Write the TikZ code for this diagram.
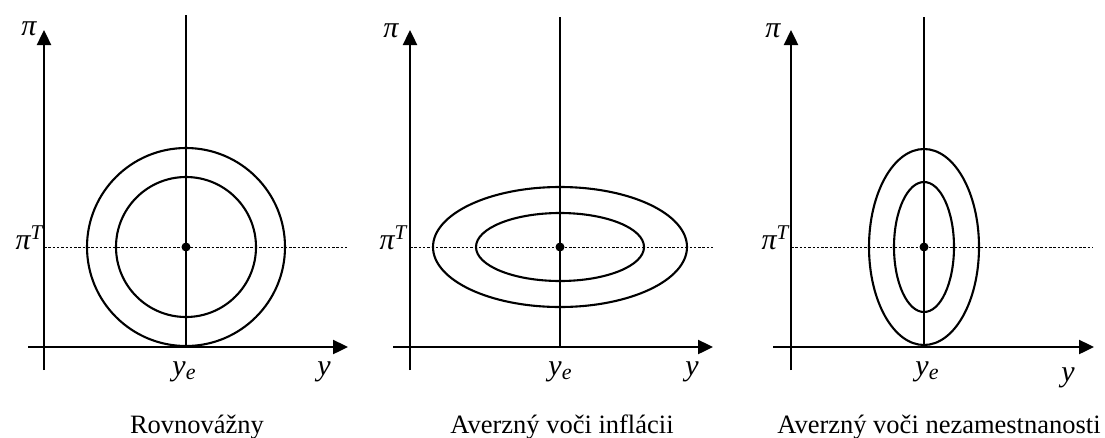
\documentclass[tikz,border=0pt]{standalone}
\usepackage{fontspec}
\setmainfont{Liberation Serif}
\usetikzlibrary{arrows.meta}

\begin{document}
\begin{tikzpicture}[x=1pt, y=-1pt,
  axis/.style={line width=2.4pt, -{Triangle[length=15pt, width=14pt]}},
  guide/.style={line width=1.3pt},
  level/.style={line width=2.1pt},
  target/.style={line width=1pt, dash pattern=on 2.5pt off 1.8pt},
  mlabel/.style={font=\fontsize{30}{30}\selectfont\itshape, inner sep=0pt},
  caption/.style={font=\fontsize{26.5}{30}\selectfont, inner sep=0pt, anchor=base}]
\useasboundingbox (0,0) rectangle (1105,437);

% rovnovazny
\coordinate (o1) at (44,347);
\coordinate (c1) at (186,247);
\draw[axis] (44,370) -- (44,30) node (pi1) {};
\draw[axis] (28,347) -- (348,347) node (y1) {};
\draw[guide] (186,15) -- (186,347);
\draw[target] (44,247) -- (347,247);
\draw[level] (c1) circle (99);
\draw[level] (c1) circle (70);
\fill (c1) circle (4.5);
\node[mlabel, anchor=base] at (29,35) {π};
\node[mlabel, anchor=base east] at (43,249) {π\textsuperscript{T}};
\node[mlabel, anchor=base] at (184,375) {y\raisebox{-4pt}{\fontsize{22}{22}\selectfont e}};
\node[mlabel, anchor=base] at (324,375) {y};
\node[caption] at (197,433) {Rovnovážny};

% averzny voci inflacii
\coordinate (c2) at (560,247);
\draw[axis] (410,370) -- (410,30) node (pi2) {};
\draw[axis] (393,347) -- (713,347) node (y2) {};
\draw[guide] (560,17) -- (560,347);
\draw[target] (410,247) -- (713,247);
\draw[level] (c2) ellipse (127 and 60);
\draw[level] (c2) ellipse (84 and 34);
\fill (c2) circle (4.5);
\node[mlabel, anchor=base] at (391,37) {π};
\node[mlabel, anchor=base east] at (407,249) {π\textsuperscript{T}};
\node[mlabel, anchor=base] at (560,375) {y\raisebox{-4pt}{\fontsize{22}{22}\selectfont e}};
\node[mlabel, anchor=base] at (692,375) {y};
\node[caption] at (562,433) {Averzný voči inflácii};

% averzny voci nezamestnanosti
\coordinate (c3) at (924,247);
\draw[axis] (791,370) -- (791,30) node (pi3) {};
\draw[axis] (773,347) -- (1094,347) node (y3) {};
\draw[guide] (924,17) -- (924,347);
\draw[target] (791,247) -- (1093,247);
\draw[level] (c3) ellipse (55 and 98);
\draw[level] (c3) ellipse (30 and 65);
\fill (c3) circle (4.5);
\node[mlabel, anchor=base] at (773,37) {π};
\node[mlabel, anchor=base east] at (789,249) {π\textsuperscript{T}};
\node[mlabel, anchor=base] at (927,375) {y\raisebox{-4pt}{\fontsize{22}{22}\selectfont e}};
\node[mlabel, anchor=base] at (1068,381) {y};
\node[caption] at (939,433) {Averzný voči nezamestnanosti};
\end{tikzpicture}
\end{document}
